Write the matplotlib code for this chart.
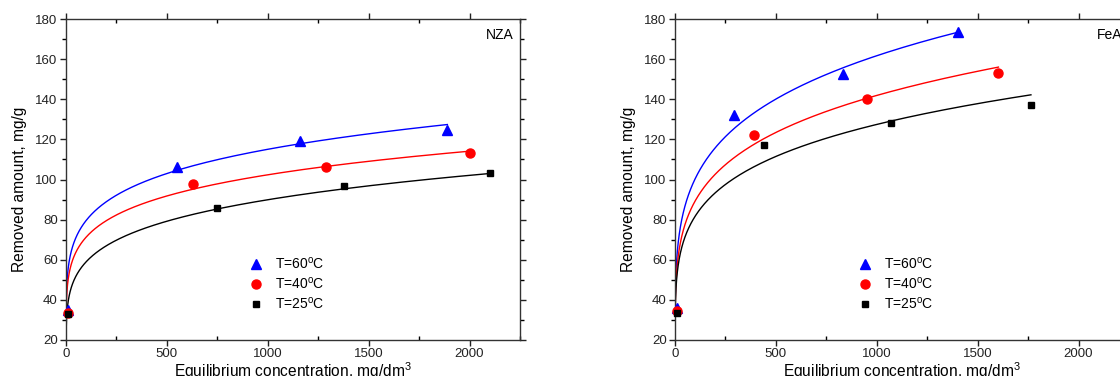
import matplotlib
matplotlib.use("Agg")
import matplotlib.pyplot as plt
import numpy as np
from matplotlib.ticker import MultipleLocator

plt.rcParams['font.family'] = ['Liberation Sans', 'DejaVu Sans']
plt.rcParams['mathtext.default'] = 'regular'

labels = ['T=60$^o$C', 'T=40$^o$C', 'T=25$^o$C']
colors = ['blue', 'red', 'black']
markers = ['^', 'o', 's']
msizes = [7, 6.5, 5]

# NZA: equilibrium concentration (mg/dm3) and removed amount (mg/g)
nza_x = [[8, 550, 1160, 1890],
         [8, 630, 1290, 2000],
         [8, 750, 1380, 2100]]
nza_y = [[35, 106, 119, 124.5],
         [33.7, 98, 106, 113],
         [32.8, 86, 97, 103]]
# Freundlich fit q = K * C^(1/n)
nza_k = [38.1, 34.6, 25.4]
nza_inv_n = [0.160, 0.157, 0.183]

# FeA
fea_x = [[8, 293, 834, 1404],
         [8, 393, 952, 1603],
         [8, 441, 1072, 1764]]
fea_y = [[36, 132.3, 152.5, 173.5],
         [34.5, 122, 140, 153],
         [33.5, 117, 128, 137]]
fea_k = [38.7, 35.4, 33.6]
fea_inv_n = [0.207, 0.201, 0.193]


def draw_panel(ax, xs, ys, ks, ns, name):
    handles = []
    for i in range(3):
        c = np.geomspace(1, xs[i][-1], 400)
        ax.plot(c, ks[i] * c ** ns[i], color=colors[i], lw=1)
        h, = ax.plot(xs[i], ys[i], ls='none', marker=markers[i], color=colors[i],
                     markersize=msizes[i], label=labels[i], clip_on=False, zorder=3)
        handles.append(h)
    ax.set_xlim(0, 2250)
    ax.set_ylim(20, 180)
    ax.xaxis.set_major_locator(MultipleLocator(500))
    ax.xaxis.set_minor_locator(MultipleLocator(250))
    ax.yaxis.set_major_locator(MultipleLocator(20))
    ax.yaxis.set_minor_locator(MultipleLocator(10))
    ax.tick_params(which='major', direction='out', length=4, width=1, labelsize=9.5,
                   colors='#222222', pad=2)
    ax.tick_params(axis='x', which='minor', direction='in', length=3, width=1)
    ax.tick_params(axis='y', which='minor', direction='out', length=3, width=1)
    ax.tick_params(which='both', top=True, right=True, labeltop=False, labelright=False)
    for sp in ax.spines.values():
        sp.set_color('#333333')
        sp.set_linewidth(1)
    ax.set_xlabel('Equilibrium concentration, mg/dm$^3$', fontsize=11.2, labelpad=0)
    ax.set_ylabel('Removed amount, mg/g', fontsize=11.2)
    ax.yaxis.set_label_coords(-0.085, 0.47)
    ax.text(0.985, 0.95, name, transform=ax.transAxes, ha='right', va='center', fontsize=10)
    ax.legend(handles=handles, loc='upper left', bbox_to_anchor=(0.372, 0.302), frameon=False,
              fontsize=10, handletextpad=0.8, labelspacing=0.3, handlelength=1.2)


fig = plt.figure(figsize=(11.2, 3.76), dpi=100)
ax1 = fig.add_axes([66 / 1120, 36 / 376, 454 / 1120, 321 / 376])
ax2 = fig.add_axes([675 / 1120, 36 / 376, 454 / 1120, 321 / 376])

draw_panel(ax1, nza_x, nza_y, nza_k, nza_inv_n, 'NZA')
draw_panel(ax2, fea_x, fea_y, fea_k, fea_inv_n, 'FeA')

fig.savefig('out.png', dpi=100)
